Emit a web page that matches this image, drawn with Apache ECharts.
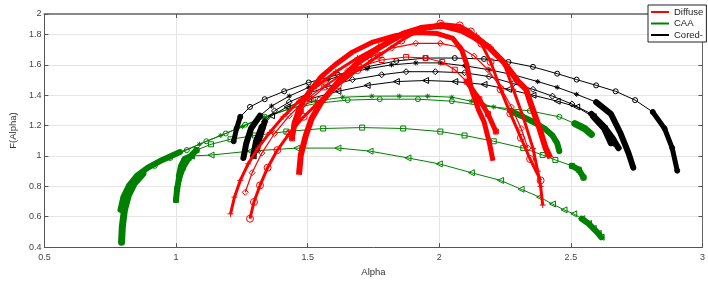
<!DOCTYPE html>
<html>
<head>
<meta charset="utf-8">
<script src="https://cdn.jsdelivr.net/npm/echarts@6/dist/echarts.min.js"></script>
<style>
html, body { margin: 0; padding: 0; background: #fff; }
#chart { width: 708px; height: 282px; }
</style>
</head>
<body>
<div id="chart"></div>
<script>
// x / y ticks
var xTicks = [0.5, 1, 1.5, 2, 2.5, 3];
var yTicks = [0.4, 0.6, 0.8, 1, 1.2, 1.4, 1.6, 1.8, 2];
var legendNames = ['Diffuse', 'CAA', 'Cored-'];

// Diffuse (red) spectra, [alpha, f(alpha)]
var diffusePlus = [[1.207,0.619],[1.222,0.729],[1.244,0.839],[1.274,0.948],[1.311,1.052],[1.356,1.155],[1.407,1.258],[1.467,1.361],[1.533,1.458],[1.607,1.555],[1.689,1.645],[1.770,1.723],[1.856,1.787],[1.930,1.832],[2.004,1.852],[2.078,1.839],[2.141,1.794],[2.196,1.716],[2.244,1.619],[2.281,1.439],[2.320,1.250],[2.356,1.050],[2.374,0.900],[2.385,0.800],[2.393,0.677]];
var diffuseCircle = [[1.281,0.587],[1.296,0.697],[1.319,0.806],[1.348,0.923],[1.385,1.039],[1.430,1.148],[1.485,1.258],[1.548,1.365],[1.615,1.465],[1.689,1.565],[1.770,1.660],[1.856,1.760],[1.930,1.835],[2.004,1.872],[2.078,1.860],[2.120,1.820],[2.160,1.740],[2.195,1.620],[2.233,1.439],[2.270,1.280],[2.310,1.120],[2.345,0.980],[2.385,0.839]];
var diffuseThickA = [[1.467,0.877],[1.474,1.006],[1.493,1.135],[1.515,1.245],[1.552,1.355],[1.615,1.484],[1.689,1.613],[1.774,1.716],[1.863,1.806],[1.937,1.845],[2.011,1.858],[2.085,1.826],[2.133,1.781],[2.189,1.716],[2.244,1.619],[2.300,1.490],[2.330,1.439],[2.348,1.342],[2.381,1.181],[2.404,1.052],[2.422,0.987]];
var diffuseThickB = [[1.441,1.116],[1.448,1.213],[1.467,1.310],[1.504,1.419],[1.552,1.523],[1.604,1.600],[1.670,1.684],[1.744,1.748],[1.837,1.794],[1.919,1.813],[1.993,1.806],[2.052,1.774],[2.085,1.700],[2.105,1.600],[2.122,1.439],[2.150,1.300],[2.170,1.226],[2.190,1.090],[2.204,0.968]];
var diffuseSquare = [[1.441,1.116],[1.452,1.213],[1.474,1.297],[1.511,1.374],[1.563,1.452],[1.622,1.523],[1.696,1.587],[1.781,1.632],[1.874,1.652],[1.948,1.645],[2.011,1.619],[2.059,1.568],[2.104,1.490],[2.152,1.374],[2.185,1.277],[2.215,1.161]];
var diffuseDiamond = [[1.263,0.761],[1.289,0.890],[1.326,1.019],[1.374,1.148],[1.430,1.265],[1.496,1.374],[1.570,1.471],[1.652,1.561],[1.733,1.645],[1.819,1.710],[1.911,1.742],[2.004,1.742],[2.078,1.716],[2.133,1.658],[2.185,1.568],[2.233,1.452],[2.274,1.323],[2.311,1.181],[2.337,1.052]];

// CAA (green) spectra
var caaCircle = [[0.793,0.432],[0.796,0.535],[0.804,0.645],[0.819,0.742],[0.841,0.819],[0.874,0.884],[0.919,0.935],[0.978,0.987],[1.041,1.039],[1.115,1.097],[1.189,1.148],[1.263,1.206],[1.337,1.258],[1.430,1.310],[1.541,1.348],[1.652,1.368],[1.774,1.374],[1.919,1.374],[2.048,1.361],[2.170,1.329],[2.344,1.297],[2.456,1.258],[2.515,1.213],[2.552,1.181],[2.578,1.142]];
var caaStar = [[0.789,0.645],[0.800,0.729],[0.822,0.806],[0.852,0.871],[0.893,0.923],[0.948,0.974],[1.015,1.026],[1.089,1.077],[1.170,1.135],[1.252,1.194],[1.337,1.252],[1.430,1.310],[1.530,1.361],[1.633,1.387],[1.744,1.394],[1.848,1.394],[1.956,1.394],[2.048,1.387],[2.122,1.361],[2.207,1.323],[2.270,1.297],[2.319,1.258],[2.363,1.219],[2.400,1.181],[2.430,1.135],[2.448,1.084],[2.456,1.032]];
var caaSquare = [[1.000,0.710],[1.004,0.781],[1.011,0.852],[1.026,0.923],[1.048,0.987],[1.078,1.039],[1.133,1.077],[1.207,1.110],[1.300,1.135],[1.419,1.161],[1.559,1.181],[1.707,1.187],[1.863,1.181],[2.004,1.161],[2.096,1.135],[2.207,1.097],[2.319,1.052],[2.393,1.006],[2.441,0.974],[2.504,0.935],[2.530,0.910],[2.548,0.858]];
var caaTriangle = [[1.011,0.871],[1.019,0.935],[1.033,0.981],[1.059,1.000],[1.133,1.006],[1.281,1.032],[1.459,1.052],[1.615,1.052],[1.737,1.032],[1.881,0.987],[2.000,0.948],[2.122,0.890],[2.233,0.839],[2.311,0.781],[2.381,0.729],[2.430,0.684],[2.474,0.645],[2.511,0.619],[2.541,0.587],[2.567,0.555],[2.585,0.523],[2.604,0.490],[2.615,0.465]];

// Cored (black) spectra
var coredHex = [[1.219,1.097],[1.230,1.181],[1.244,1.258],[1.281,1.323],[1.337,1.374],[1.411,1.426],[1.504,1.484],[1.615,1.535],[1.726,1.587],[1.837,1.626],[1.948,1.645],[2.059,1.645],[2.170,1.639],[2.263,1.619],[2.356,1.587],[2.448,1.542],[2.522,1.503],[2.596,1.465],[2.670,1.426],[2.744,1.368],[2.811,1.290],[2.856,1.181],[2.885,1.052],[2.904,0.903]];
var coredStar = [[1.256,0.987],[1.267,1.084],[1.285,1.181],[1.319,1.265],[1.363,1.329],[1.430,1.394],[1.504,1.452],[1.578,1.503],[1.652,1.542],[1.726,1.574],[1.819,1.600],[1.911,1.613],[2.004,1.613],[2.096,1.594],[2.189,1.568],[2.281,1.535],[2.374,1.490],[2.448,1.452],[2.522,1.406],[2.596,1.355],[2.652,1.277],[2.689,1.148],[2.719,1.019],[2.737,0.923]];
var coredDiamond = [[1.307,1.039],[1.319,1.129],[1.337,1.226],[1.374,1.297],[1.430,1.355],[1.504,1.413],[1.578,1.458],[1.670,1.503],[1.781,1.535],[1.874,1.555],[1.985,1.555],[2.096,1.548],[2.189,1.523],[2.281,1.477],[2.356,1.439],[2.430,1.394],[2.504,1.342],[2.578,1.277],[2.626,1.194],[2.659,1.116],[2.681,1.052]];
var coredTriangle = [[1.293,1.000],[1.304,1.097],[1.326,1.194],[1.363,1.265],[1.422,1.323],[1.504,1.374],[1.615,1.426],[1.726,1.465],[1.837,1.490],[1.948,1.497],[2.059,1.490],[2.170,1.471],[2.263,1.439],[2.356,1.400],[2.448,1.361],[2.522,1.323],[2.585,1.258],[2.626,1.181],[2.652,1.084]];

var RED = '#ff0000', GREEN = '#008000', BLACK = '#000000';
var plusPath = 'path://M5,0L5,10M0,5L10,5';
var starPath = 'path://M5,0L5,10M0,5L10,5M1.5,1.5L8.5,8.5M8.5,1.5L1.5,8.5';

// how each spectrum is drawn: marker, thin line, dense (thick) head/tail
var curveStyles = [
	{ data: caaCircle, color: GREEN, symbol: 'circle', size: 5, width: 1, head: 6, tail: 3, thick: 7, z: 2 },
	{ data: caaStar, color: GREEN, symbol: starPath, size: 5, width: 1, head: 7, tail: 7, thick: 6, z: 2 },
	{ data: caaSquare, color: GREEN, symbol: 'rect', size: 5, width: 1, head: 6, tail: 3, thick: 6, z: 2 },
	{ data: caaTriangle, color: GREEN, symbol: 'triangle', rotate: 90, size: 6, width: 1, head: 4, tail: 5, thick: 6, z: 2 },
	{ data: coredHex, color: BLACK, symbol: 'circle', size: 5, width: 1, head: 3, tail: 4, thick: 5, z: 3 },
	{ data: coredStar, color: BLACK, symbol: starPath, size: 5, width: 1, head: 4, tail: 5, thick: 6, z: 3 },
	{ data: coredDiamond, color: BLACK, symbol: 'diamond', size: 6, width: 1, head: 3, tail: 4, thick: 6, z: 3 },
	{ data: coredTriangle, color: BLACK, symbol: 'triangle', rotate: 90, size: 6, width: 1, head: 3, tail: 3, thick: 6, z: 3 },
	{ data: diffuseDiamond, color: RED, symbol: 'diamond', size: 6, width: 1.2, head: 0, tail: 0, thick: 0, z: 4 },
	{ data: diffuseSquare, color: RED, symbol: 'rect', size: 5, width: 1.2, head: 3, tail: 4, thick: 5, z: 4 },
	{ data: diffusePlus, color: RED, symbol: plusPath, size: 6, width: 3, head: 0, tail: 0, thick: 0, z: 4 },
	{ data: diffuseCircle, color: RED, symbol: 'circle', size: 7, width: 3, head: 0, tail: 0, thick: 0, z: 4 },
	{ data: diffuseThickA, color: RED, symbol: 'none', size: 0, width: 6, head: 0, tail: 0, thick: 0, z: 5 },
	{ data: diffuseThickB, color: RED, symbol: 'none', size: 0, width: 5, head: 0, tail: 0, thick: 0, z: 5 }
];

function thickSeries(pts, c, w, z) {
	return {
		type: 'line', data: pts, symbol: 'none', silent: true, z: z,
		lineStyle: { color: c, width: w, cap: 'round', join: 'round' }
	};
}

var series = [];
curveStyles.forEach(function (s, i) {
	series.push({
		type: 'line', name: 'c' + i, data: s.data, silent: true, z: s.z,
		symbol: s.symbol, symbolSize: s.size, symbolRotate: s.rotate || 0,
		lineStyle: { color: s.color, width: s.width },
		itemStyle: { color: 'rgba(0,0,0,0)', borderColor: s.color, borderWidth: 1 }
	});
	if (s.head > 0) series.push(thickSeries(s.data.slice(0, s.head), s.color, s.thick, s.z));
	if (s.tail > 0) series.push(thickSeries(s.data.slice(s.data.length - s.tail), s.color, s.thick, s.z));
});
// legend entries
[RED, GREEN, BLACK].forEach(function (c, i) {
	series.push({ type: 'line', name: legendNames[i], data: [], itemStyle: { color: c }, lineStyle: { color: c } });
});

var axisText = { fontSize: 9, color: '#444', fontFamily: 'Liberation Sans' };
var gridLine = { show: true, lineStyle: { color: '#e4e4e4', width: 1 } };

var chart = echarts.init(document.getElementById('chart'));
chart.setOption({
	animation: false,
	backgroundColor: '#fff',
	grid: { left: 29, right: 5, top: 14, bottom: 31 },
	legend: {
		data: legendNames, orient: 'vertical', left: 648, top: 5,
		icon: 'rect', itemWidth: 18, itemHeight: 2, itemGap: 1.5,
		padding: [2, 3, 2, 3], backgroundColor: '#fff',
		borderColor: '#222', borderWidth: 1, borderRadius: 0,
		textStyle: { fontSize: 9.5, lineHeight: 10, color: '#222', fontFamily: 'Liberation Sans' }
	},
	xAxis: [{
		type: 'value', min: xTicks[0], max: xTicks[xTicks.length - 1], interval: 0.5,
		name: 'Alpha', nameLocation: 'middle', nameGap: 19,
		nameTextStyle: { fontSize: 9.5, color: '#333', fontFamily: 'Liberation Sans' },
		axisLine: { show: true, lineStyle: { color: '#555', width: 1 } },
		axisTick: { show: true, inside: true, length: 4, lineStyle: { color: '#555' } },
		axisLabel: Object.assign({ margin: 6 }, axisText),
		splitLine: gridLine
	}, {
		type: 'value', position: 'top', min: xTicks[0], max: xTicks[xTicks.length - 1], interval: 0.5,
		axisLine: { show: true, lineStyle: { color: '#888', width: 2 } },
		axisTick: { show: true, inside: true, length: 4, lineStyle: { color: '#555' } },
		axisLabel: { show: false }, splitLine: { show: false }
	}],
	yAxis: [{
		type: 'value', min: yTicks[0], max: 1.935, interval: 0.2,
		name: 'F(Alpha)', nameLocation: 'middle', nameGap: 17,
		nameTextStyle: { fontSize: 9.5, color: '#333', fontFamily: 'Liberation Sans' },
		axisLine: { show: true, lineStyle: { color: '#555', width: 1 } },
		axisTick: { show: true, inside: true, length: 4, lineStyle: { color: '#555' } },
		axisLabel: Object.assign({
			margin: 3,
			formatter: function (v) { return v > 1.9 ? String(yTicks[yTicks.length - 1]) : String(+v.toFixed(1)); }
		}, axisText),
		splitLine: gridLine
	}, {
		type: 'value', position: 'right', min: yTicks[0], max: 1.935, interval: 0.2,
		axisLine: { show: true, lineStyle: { color: '#666', width: 1 } },
		axisTick: { show: true, inside: true, length: 4, lineStyle: { color: '#555' } },
		axisLabel: { show: false }, splitLine: { show: false }
	}],
	series: series
});
</script>
</body>
</html>
